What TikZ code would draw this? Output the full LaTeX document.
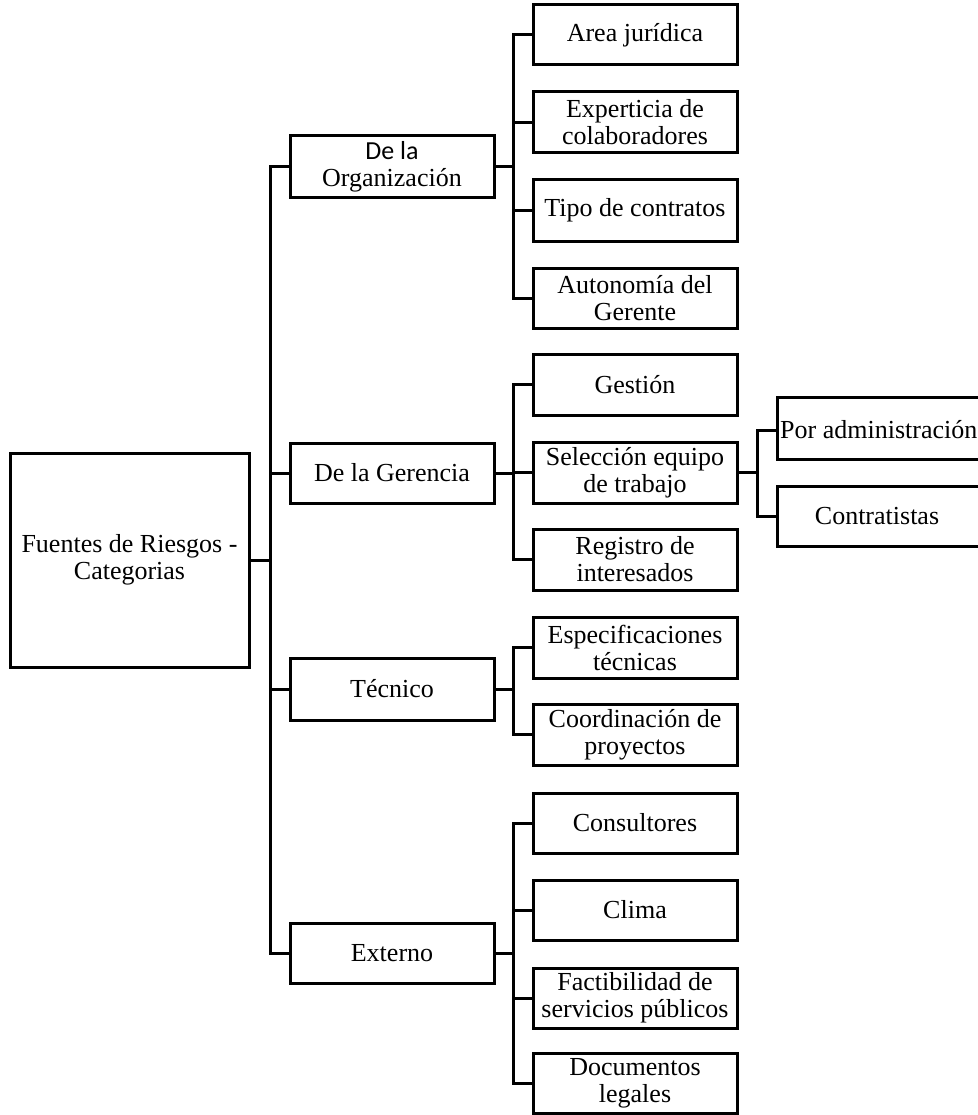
\documentclass[tikz,border=0pt]{standalone}
\usepackage{fontspec}
\setmainfont{Liberation Serif}
\newfontfamily\calib{Carlito}
\begin{document}
\begin{tikzpicture}[x=1pt,y=-1pt,
  box/.style={draw,line width=3pt,align=center,inner sep=0pt,
    font=\fontsize{26}{27}\selectfont},
  lone/.style={box,minimum width=204pt,minimum height=61pt},
  ltwo/.style={box,minimum width=204pt,minimum height=61pt},
  conn/.style={line width=3pt,line cap=rect}]
\useasboundingbox (0,0) rectangle (977,1115);
% root
\node[box,minimum width=239pt,minimum height=214pt] (root) at (129.5,560) {Fuentes de Riesgos -\\Categorias};
% level 1
\node[lone,minimum height=62pt] (org) at (392,167) {{\calib De la}\\Organización};
\node[lone,minimum height=60pt] (ger) at (392,473) {De la Gerencia};
\node[lone,minimum height=62pt] (tec) at (392,689) {Técnico};
\node[lone,minimum height=60pt] (ext) at (392,953) {Externo};
% level 2
\node[ltwo,minimum height=60pt] (area) at (635,35) {Area jurídica};
\node[ltwo] (expe) at (635,122.5) {Experticia de\\colaboradores};
\node[ltwo] (tipo) at (635,210.5) {Tipo de contratos};
\node[ltwo,minimum height=60pt] (auto) at (635,298) {Autonomía del\\Gerente};
\node[ltwo] (gest) at (635,384.5) {Gestión};
\node[ltwo] (sele) at (635,472.5) {Selección equipo\\de trabajo};
\node[ltwo] (regi) at (635,559.5) {Registro de\\interesados};
\node[ltwo] (espe) at (635,647.5) {Especificaciones\\técnicas};
\node[ltwo] (coor) at (635,734.5) {Coordinación de\\proyectos};
\node[ltwo,minimum height=60pt] (cons) at (635,823) {Consultores};
\node[ltwo,minimum height=60pt] (clim) at (635,910) {Clima};
\node[ltwo,minimum height=60pt] (fact) at (635,998) {Factibilidad de\\servicios públicos};
\node[ltwo,minimum height=60pt] (docu) at (635,1083) {Documentos\\legales};
% level 3 (clipped on the right)
\node[box,minimum width=214pt,minimum height=62pt] (pora) at (884,428) {};
\node[font=\fontsize{26}{27}\selectfont,anchor=west,inner sep=0pt] (porat) at (780,430) {Por administración};
\node[box,minimum width=214pt,minimum height=60pt] (cont) at (884,516) {};
\node[font=\fontsize{26}{27}\selectfont,inner sep=0pt] (contt) at (877,516) {Contratistas};
% bus coordinates
\coordinate (t0) at (270,0);
\coordinate (t1) at (513,0);
\coordinate (t2) at (757,0);
% root to level 1
\foreach \c in {org,ger,tec,ext}
  \draw[conn] (root.east) -- (t0 |- root.east) |- (\c.west);
% level 1 to level 2
\foreach \c in {area,expe,tipo,auto}
  \draw[conn] (org.east) -- (t1 |- org.east) |- (\c.west);
\foreach \c in {gest,sele,regi}
  \draw[conn] (ger.east) -- (t1 |- ger.east) |- (\c.west);
\foreach \c in {espe,coor}
  \draw[conn] (tec.east) -- (t1 |- tec.east) |- (\c.west);
\foreach \c in {cons,clim,fact,docu}
  \draw[conn] (ext.east) -- (t1 |- ext.east) |- (\c.west);
% level 2 to level 3
\draw[conn] (sele.east) -- (t2 |- sele.east) |- (porat.west -| pora.west);
\draw[conn] (sele.east) -- (t2 |- sele.east) |- (cont.west);
\end{tikzpicture}
\end{document}
